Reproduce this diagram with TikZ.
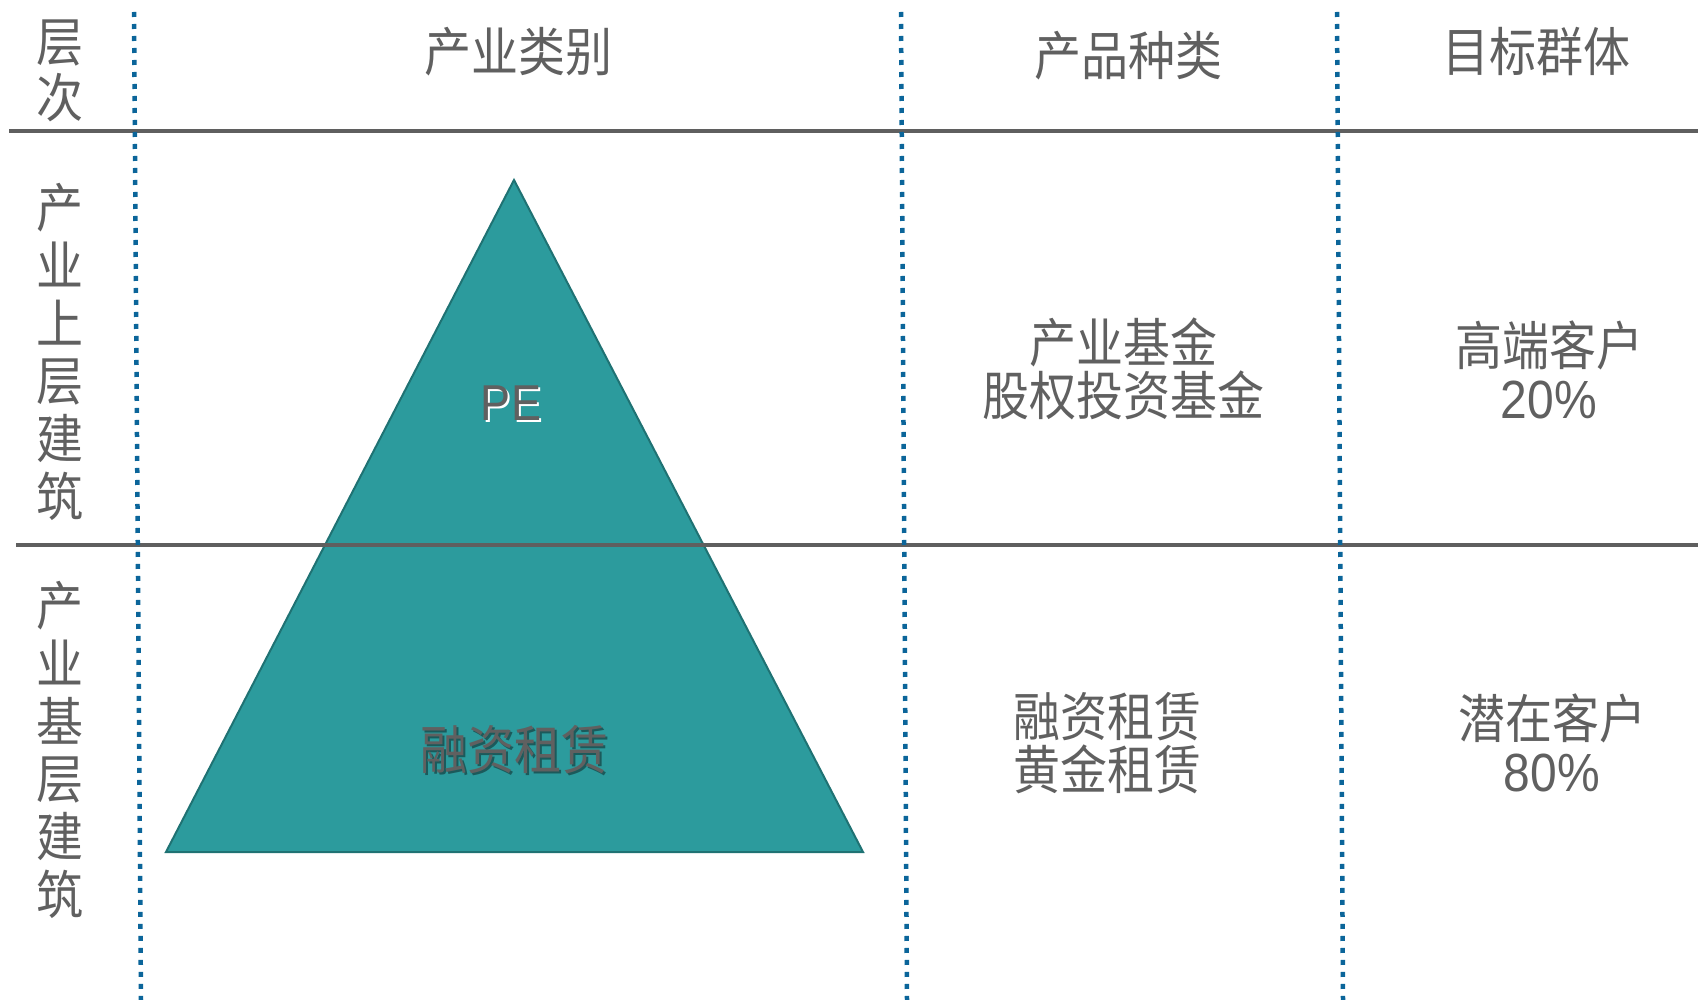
\documentclass[tikz,border=0pt]{standalone}
\usepackage{fontspec}
\setmainfont{Liberation Sans}
\newfontfamily\cjk{Noto Sans CJK SC}
\definecolor{txt}{HTML}{606060}
\definecolor{rulegray}{HTML}{5F5F5F}
\definecolor{dotblue}{HTML}{0B659A}
\definecolor{tealfill}{HTML}{2C9B9D}
\definecolor{tealedge}{HTML}{1F7273}
\definecolor{tealshadow}{HTML}{1B5A5B}
\begin{document}
\begin{tikzpicture}[x=1pt,y=-1pt,
  cjkt/.style={font=\cjk\fontsize{47}{#1}\selectfont, text=txt, inner sep=0pt, yscale=1.12, transform shape, align=center},
  cjkt/.default=48,
  hrule/.style={draw=rulegray, line width=3.5pt},
  vdots/.style={draw=dotblue, line width=4.5pt, dash pattern=on 5pt off 7pt},
  tri/.style={fill=tealfill, draw=tealedge, line width=2pt, line join=miter}]
\useasboundingbox (0,0) rectangle (1698,1000);
% triangle
\coordinate (apex) at (514,180);
\coordinate (bl) at (166,852);
\coordinate (br) at (863,852);
\draw[tri] (apex) -- (bl) -- (br) -- cycle;
% horizontal rules
\coordinate (h1a) at (9,131);   \coordinate (h1b) at (1698,131);
\coordinate (h2a) at (16,545);  \coordinate (h2b) at (1698,545);
\draw[hrule] (h1a) -- (h1b);
\draw[hrule] (h2a) -- (h2b);
% dotted verticals
\coordinate (v1a) at (134,12);  \coordinate (v1b) at (141,1000);
\coordinate (v2a) at (901,12);  \coordinate (v2b) at (907,1000);
\coordinate (v3a) at (1337,12); \coordinate (v3b) at (1343,1000);
\draw[vdots] (v1a) -- (v1b);
\draw[vdots] (v2a) -- (v2b);
\draw[vdots] (v3a) -- (v3b);
% header
\node[cjkt=49.5] (cengci) at (60,71) {层\\次};
\node[cjkt] (hd1) at (518,52) {产业类别};
\node[cjkt] (hd2) at (1128,56) {产品种类};
\node[cjkt] (hd3) at (1536,52) {目标群体};
% left column
\node[cjkt=51.6] (upper) at (60,352) {产\\业\\上\\层\\建\\筑};
\node[cjkt=51.6] (lower) at (60,750) {产\\业\\基\\层\\建\\筑};
% triangle labels
\node[font=\fontsize{45}{48}\selectfont, text=white, inner sep=0pt, yscale=1.12, transform shape] (peshadow) at (513,405) {PE};
\node[font=\fontsize{45}{48}\selectfont, text=txt, inner sep=0pt, yscale=1.12, transform shape] (pe) at (511,403) {PE};
\node[cjkt, text=tealshadow] (rzshadow) at (516,752) {融资租赁};
\node[cjkt] (rz) at (514,750) {融资租赁};
% products
\node[cjkt=48] (prod1) at (1123,369) {产业基金\\股权投资基金};
\node[cjkt=48] (prod2) at (1107,743) {融资租赁\\黄金租赁};
% target groups
\node[cjkt=48] (tg1) at (1549,370) {高端客户\\{\normalfont\fontsize{48}{48}\selectfont 20\%}};
\node[cjkt=48] (tg2) at (1552,743) {潜在客户\\{\normalfont\fontsize{48}{48}\selectfont 80\%}};
\end{tikzpicture}
\end{document}
